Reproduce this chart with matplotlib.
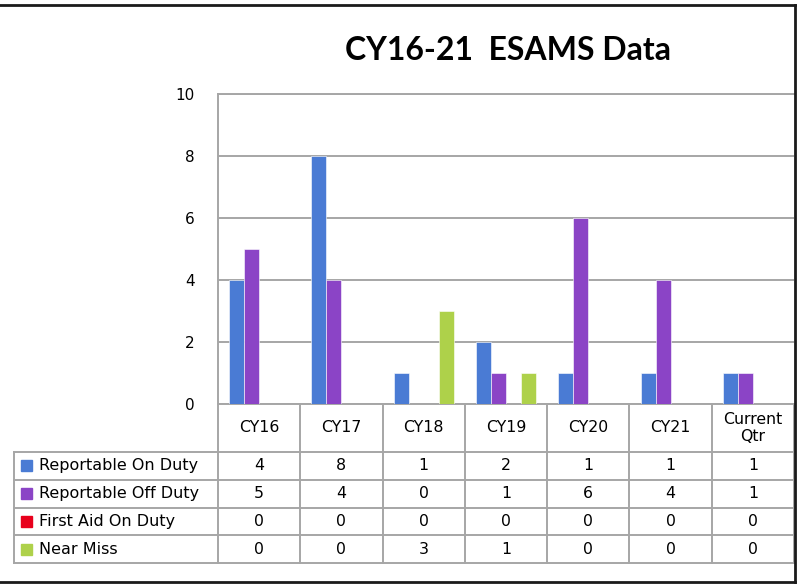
import matplotlib
matplotlib.use('Agg')
import matplotlib.pyplot as plt
from matplotlib.lines import Line2D
from matplotlib.patches import Rectangle
import numpy as np

categories = ['CY16', 'CY17', 'CY18', 'CY19', 'CY20', 'CY21', 'Current\nQtr']
series_names = ['Reportable On Duty', 'Reportable Off Duty', 'First Aid On Duty', 'Near Miss']
on_duty = [4, 8, 1, 2, 1, 1, 1]
off_duty = [5, 4, 0, 1, 6, 4, 1]
first_aid = [0, 0, 0, 0, 0, 0, 0]
near_miss = [0, 0, 3, 1, 0, 0, 0]
colors = ['#4a7bd4', '#8b44c6', '#e8001c', '#aed14a']
yticks = [0, 2, 4, 6, 8, 10]

W, H = 798, 584
fig = plt.figure(figsize=(W / 100, H / 100), dpi=100)

def fx(px):
    return px / W

def fy(py):
    return 1 - py / H

# plot area (pixel layout of the reference)
left, right, top, base = 218, 794, 94, 404
ax = fig.add_axes([fx(left), fy(base), fx(right) - fx(left), fy(top) - fy(base)])
ax.set_xlim(0, len(categories))
ax.set_ylim(0, 10)

grid_c = '#a6a6a6'
values = [on_duty, off_duty, first_aid, near_miss]
x = np.arange(len(categories))
bw = 0.182
for i, (vals, col) in enumerate(zip(values, colors)):
    ax.bar(x + 0.5 + (i - 1.5) * bw, vals, width=bw, color=col,
           edgecolor='white', linewidth=0.4, zorder=3)

ax.set_yticks(yticks)
ax.set_yticklabels([str(t) for t in yticks], fontsize=11)
ax.tick_params(axis='y', length=0, pad=17)
ax.set_xticks([])
ax.yaxis.grid(True, color=grid_c, linewidth=1.4)
ax.set_axisbelow(True)
for s in ['top', 'left', 'bottom']:
    ax.spines[s].set_color(grid_c)
    ax.spines[s].set_linewidth(1.4)
ax.spines['right'].set_visible(False)

fig.text(fx(508), fy(50), 'CY16-21  ESAMS Data', ha='center', va='center',
         fontsize=23, fontweight='bold', family='Lato')

# data table below the plot
tab = fig.add_axes([0, 0, 1, 1], zorder=5)
tab.set_xlim(0, W)
tab.set_ylim(H, 0)
tab.axis('off')

cw = (right - left) / len(categories)
col_edges = [left + i * cw for i in range(len(categories) + 1)]
head_bottom = 452
rh = (563 - head_bottom) / len(series_names)
row_edges = [head_bottom + i * rh for i in range(len(series_names) + 1)]
leg_left = 14

for xe in col_edges:
    tab.add_line(Line2D([xe, xe], [base, row_edges[-1]], color=grid_c, lw=1.4))
tab.add_line(Line2D([leg_left, leg_left], [head_bottom, row_edges[-1]], color=grid_c, lw=1.4))
for ye in row_edges:
    tab.add_line(Line2D([leg_left, right], [ye, ye], color=grid_c, lw=1.4))

for j, cat in enumerate(categories):
    cx = (col_edges[j] + col_edges[j + 1]) / 2
    tab.text(cx, (base + head_bottom) / 2, cat, ha='center', va='center',
             fontsize=11.3, linespacing=1.2)

for i, (name, vals, col) in enumerate(zip(series_names, values, colors)):
    cy = (row_edges[i] + row_edges[i + 1]) / 2
    tab.add_patch(Rectangle((21, cy - 5.5), 11, 11, color=col))
    tab.text(39, cy, name, ha='left', va='center', fontsize=11.5)
    for j, v in enumerate(vals):
        cx = (col_edges[j] + col_edges[j + 1]) / 2
        tab.text(cx, cy, str(v), ha='center', va='center', fontsize=11.3)

# outer chart border
bc = '#1a1a1a'
tab.add_line(Line2D([0, 794.5], [5, 5], color=bc, lw=2))
tab.add_line(Line2D([794.5, 794.5], [5, 582], color=bc, lw=2))
tab.add_line(Line2D([0, 794.5], [582, 582], color=bc, lw=2))

fig.savefig('out.png', dpi=100)
